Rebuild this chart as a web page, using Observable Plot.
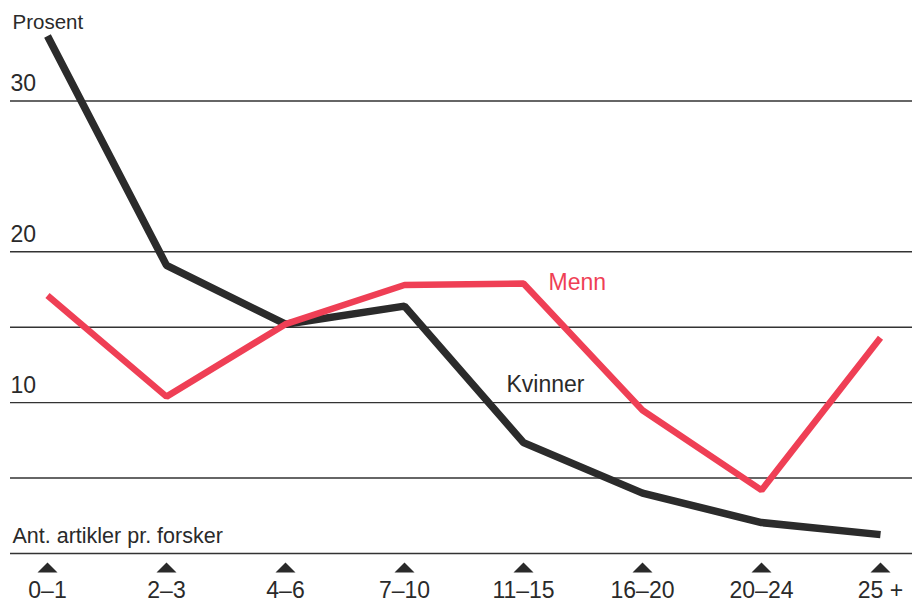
<!DOCTYPE html>
<html>
<head>
<meta charset="utf-8">
<script src="https://cdn.jsdelivr.net/npm/d3@7"></script>
<script src="https://cdn.jsdelivr.net/npm/@observablehq/plot@0.6"></script>
<style>
  html, body { margin: 0; padding: 0; background: #fff; }
  svg { display: block; }
</style>
</head>
<body>
<div id="chart"></div>
<script>
const categories = ["0–1", "2–3", "4–6", "7–10", "11–15", "16–20", "20–24", "25 +"];
const kvinner = [34.3, 19.1, 15.2, 16.4, 7.35, 4.0, 2.05, 1.25];
const menn = [17.1, 10.4, 15.2, 17.8, 17.9, 9.5, 4.2, 14.3];
const gridValues = [5, 10, 15, 20, 30];
const yLabels = [10, 20, 30];

const dataK = categories.map((c, i) => ({cat: c, v: kvinner[i]}));
const dataM = categories.map((c, i) => ({cat: c, v: menn[i]}));

const font = "'Liberation Sans', Arial, Helvetica, sans-serif";

// flat triangle marker like the printed original
const flatTriangle = {
  draw(ctx, size) {
    ctx.moveTo(-10, 5);
    ctx.lineTo(10, 5);
    ctx.lineTo(0, -5);
    ctx.closePath();
  }
};

const chart = Plot.plot({
  width: 912,
  height: 603,
  marginLeft: 45,
  marginRight: 30,
  marginTop: 25,
  marginBottom: 50,
  style: {fontFamily: font, background: "#fff", color: "#2a2a2a", overflow: "visible"},
  x: {type: "point", domain: categories, padding: 0, axis: null},
  y: {domain: [0, 35], axis: null},
  marks: [
    Plot.ruleY(gridValues, {stroke: "#333", strokeWidth: 1.4, insetLeft: -35, insetRight: -30}),
    Plot.ruleY([0], {stroke: "#333", strokeWidth: 1.6, insetLeft: -35, insetRight: -30}),
    Plot.text(yLabels, {y: d => d, text: d => String(d), frameAnchor: "left", dx: -35, dy: -17, textAnchor: "start", fontSize: 23, fill: "#2a2a2a"}),
    Plot.text(["Prosent"], {frameAnchor: "top-left", dx: -33, dy: -11, textAnchor: "start", fontSize: 20.5, fill: "#2a2a2a"}),
    Plot.text(["Ant. artikler pr. forsker"], {y: 0, frameAnchor: "left", dx: -33, dy: -17, textAnchor: "start", fontSize: 21.5, fill: "#2a2a2a"}),
    Plot.dot(categories, {x: d => d, y: () => 0, symbol: flatTriangle, r: 6, fill: "#2a2a2a", stroke: "none", dy: 14}),
    Plot.text(categories, {x: d => d, y: () => 0, text: d => d, dy: 37, fontSize: 23, fill: "#2a2a2a"}),
    Plot.line(dataK, {x: "cat", y: "v", stroke: "#2b2b2b", strokeWidth: 7.5, strokeLinejoin: "miter", strokeLinecap: "butt"}),
    Plot.line(dataM, {x: "cat", y: "v", stroke: "#ef3f55", strokeWidth: 6.5, strokeLinejoin: "miter", strokeLinecap: "butt"}),
    Plot.text(["Menn"], {x: () => "11–15", y: () => 17.95, dx: 25, textAnchor: "start", fontSize: 23, fill: "#ef3f55"}),
    Plot.text(["Kvinner"], {x: () => "11–15", y: () => 11.2, dx: -17, textAnchor: "start", fontSize: 23, fill: "#2a2a2a"})
  ]
});
document.getElementById("chart").appendChild(chart);
</script>
</body>
</html>
